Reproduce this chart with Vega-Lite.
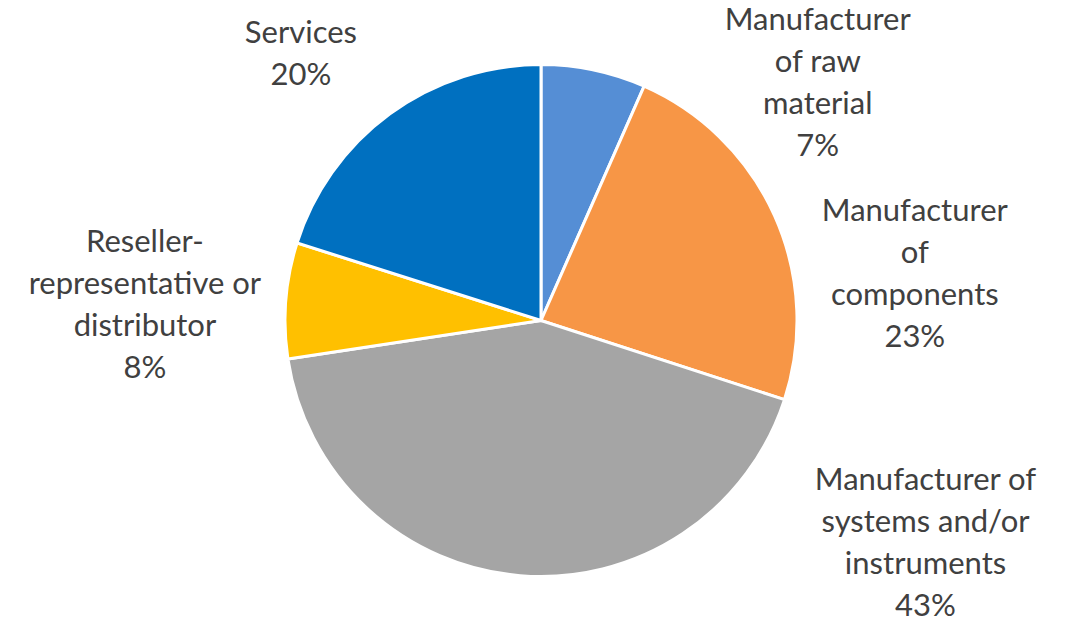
{
  "$schema": "https://vega.github.io/schema/vega-lite/v6.json",
  "width": 1070,
  "height": 609,
  "autosize": "none",
  "padding": {"left": 6, "top": 16, "right": 0, "bottom": 0},
  "background": "white",
  "config": {"view": {"stroke": null}},
  "data": {
    "values": [
      {"idx": 1, "category": "Manufacturer of raw material", "value": 6.6, "label": "Manufacturer\nof raw\nmaterial\n7%"},
      {"idx": 2, "category": "Manufacturer of components", "value": 23.4, "label": "Manufacturer\nof\ncomponents\n23%"},
      {"idx": 3, "category": "Manufacturer of systems and/or instruments", "value": 42.6, "label": "Manufacturer of\nsystems and/or\ninstruments\n43%"},
      {"idx": 4, "category": "Reseller-representative or distributor", "value": 7.3, "label": "Reseller-\nrepresentative or\ndistributor\n8%"},
      {"idx": 5, "category": "Services", "value": 20.1, "label": "Services\n20%"}
    ]
  },
  "encoding": {
    "theta": {"field": "value", "type": "quantitative", "stack": true},
    "order": {"field": "idx", "type": "quantitative"}
  },
  "layer": [
    {
      "mark": {"type": "arc", "outerRadius": 256, "stroke": "white", "strokeWidth": 3},
      "encoding": {
        "color": {
          "field": "category",
          "type": "nominal",
          "scale": {
            "domain": ["Manufacturer of raw material", "Manufacturer of components", "Manufacturer of systems and/or instruments", "Reseller-representative or distributor", "Services"],
            "range": ["#558ED5", "#F79646", "#A5A5A5", "#FFC000", "#0070C0"]
          },
          "legend": null
        }
      }
    },
    {
      "mark": {"type": "text", "radius": 300, "dx": 215, "dy": -6, "lineBreak": "\n", "lineHeight": 42, "font": "Lato", "fontSize": 31, "color": "#404040", "align": "center", "baseline": "middle"},
      "encoding": {"text": {"condition": {"test": "datum.idx === 1", "field": "label"}, "value": ""}}
    },
    {
      "mark": {"type": "text", "radius": 300, "dx": 100, "dy": 14, "lineBreak": "\n", "lineHeight": 42, "font": "Lato", "fontSize": 31, "color": "#404040", "align": "center", "baseline": "middle"},
      "encoding": {"text": {"condition": {"test": "datum.idx === 2", "field": "label"}, "value": ""}}
    },
    {
      "mark": {"type": "text", "radius": 300, "dx": 409, "dy": -138, "lineBreak": "\n", "lineHeight": 42, "font": "Lato", "fontSize": 31, "color": "#404040", "align": "center", "baseline": "middle"},
      "encoding": {"text": {"condition": {"test": "datum.idx === 3", "field": "label"}, "value": ""}}
    },
    {
      "mark": {"type": "text", "radius": 300, "dx": -97, "dy": -54, "lineBreak": "\n", "lineHeight": 42, "font": "Lato", "fontSize": 31, "color": "#404040", "align": "center", "baseline": "middle"},
      "encoding": {"text": {"condition": {"test": "datum.idx === 4", "field": "label"}, "value": ""}}
    },
    {
      "mark": {"type": "text", "radius": 300, "dx": -63, "dy": -44, "lineBreak": "\n", "lineHeight": 42, "font": "Lato", "fontSize": 31, "color": "#404040", "align": "center", "baseline": "middle"},
      "encoding": {"text": {"condition": {"test": "datum.idx === 5", "field": "label"}, "value": ""}}
    }
  ]
}
